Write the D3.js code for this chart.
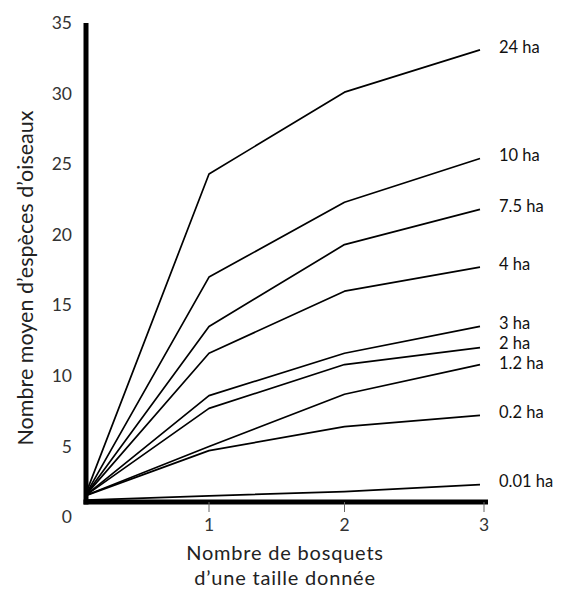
<!DOCTYPE html>
<html>
<head>
<meta charset="utf-8">
<script src="https://cdn.jsdelivr.net/npm/d3@7"></script>
<style>
  html, body { margin: 0; padding: 0; background: #fff; }
  svg { display: block; font-family: Lato, "Open Sans", sans-serif; }
</style>
</head>
<body>
<svg id="chart" width="565" height="593"></svg>
<script>
// ---- data ----
const xValues = [0, 1, 2, 3];
const seriesNames = ["24 ha", "10 ha", "7.5 ha", "4 ha", "3 ha", "2 ha", "1.2 ha", "0.2 ha", "0.01 ha"];
const s24 = [1.5, 24.3, 30.1, 33.1];
const s10 = [1.5, 17.0, 22.3, 25.4];
const s75 = [1.5, 13.5, 19.3, 21.8];
const s4 = [1.5, 11.6, 16.0, 17.7];
const s3 = [1.5, 8.6, 11.6, 13.5];
const s2 = [1.5, 7.7, 10.8, 12.0];
const s12 = [1.5, 5.0, 8.7, 10.8];
const s02 = [1.5, 4.7, 6.4, 7.2];
const s001 = [1.2, 1.5, 1.8, 2.3];
const seriesValues = [s24, s10, s75, s4, s3, s2, s12, s02, s001];
const yTicks = [0, 5, 10, 15, 20, 25, 30, 35];
const xTicks = [1, 2, 3];
const yTitle = "Nombre moyen d\u2019esp\u00e8ces d\u2019oiseaux";
const xTitle = ["Nombre de bosquets", "d\u2019une taille donn\u00e9e"];

// ---- layout ----
const svg = d3.select("#chart");
const x = d3.scaleLinear().domain([0, 1, 3]).range([85, 209, 480]);
const y = d3.scaleLinear().domain([0, 35]).range([517, 23]);
const axisY = y(0) - 15;   // baseline drawn slightly above the "0" label, as in the original
const axisX = x(0) + 1;

// y axis line (thick)
svg.append("line")
  .attr("x1", axisX).attr("x2", axisX)
  .attr("y1", y(35)).attr("y2", axisY + 2.5)
  .attr("stroke", "#000").attr("stroke-width", 5);

// x axis line (thick)
svg.append("line")
  .attr("x1", axisX - 2.5).attr("x2", x(3) + 8)
  .attr("y1", axisY).attr("y2", axisY)
  .attr("stroke", "#000").attr("stroke-width", 5);

// x tick marks
const tickX = d => x(d) + (d === 3 ? 4 : 0);
svg.append("g").selectAll("line").data(xTicks).join("line")
  .attr("x1", tickX).attr("x2", tickX)
  .attr("y1", axisY).attr("y2", axisY + 10)
  .attr("stroke", "#666").attr("stroke-width", 1);

// x tick labels
svg.append("g").selectAll("text").data(xTicks).join("text")
  .attr("x", tickX)
  .attr("y", y(0) + 8)
  .attr("dy", "0.35em")
  .attr("text-anchor", "middle")
  .attr("font-size", 17.5)
  .attr("fill", "#333")
  .text(d => d);

// y tick labels
svg.append("g").selectAll("text").data(yTicks).join("text")
  .attr("x", 72)
  .attr("y", d => y(d))
  .attr("dy", "0.35em")
  .attr("text-anchor", "end")
  .attr("font-size", 17.5)
  .attr("fill", "#333")
  .text(d => d);

// y axis title
svg.append("text")
  .attr("transform", `translate(25, 278) rotate(-90)`)
  .attr("dy", "0.35em")
  .attr("text-anchor", "middle")
  .attr("font-size", 21.5)
  .attr("fill", "#222")
  .text(yTitle);

// x axis title
svg.append("g").selectAll("text").data(xTitle).join("text")
  .attr("x", 285)
  .attr("y", (d, i) => 553 + i * 24.5)
  .attr("dy", "0.35em")
  .attr("text-anchor", "middle")
  .attr("font-size", 20)
  .attr("letter-spacing", 0.8)
  .attr("fill", "#222")
  .text(d => d);

// lines
const line = d3.line().x((d, i) => x(xValues[i])).y(d => y(d));
svg.append("g").selectAll("path").data(seriesValues).join("path")
  .attr("d", d => line(d))
  .attr("fill", "none")
  .attr("stroke", "#000")
  .attr("stroke-width", 1.7)
  .attr("stroke-linejoin", "round");

// series labels: start at the line end, then spread apart to a minimum gap
const minGap = 20;
const labelY = seriesValues.map(v => y(v[v.length - 1]) - 3);
for (let it = 0; it < 50; it++) {
  for (let i = 0; i < labelY.length - 1; i++) {
    const gap = labelY[i + 1] - labelY[i];
    if (gap < minGap) {
      const push = (minGap - gap) / 2;
      labelY[i] -= push;
      labelY[i + 1] += push;
    }
  }
}
svg.append("g").selectAll("text").data(seriesNames).join("text")
  .attr("x", 499)
  .attr("y", (d, i) => labelY[i])
  .attr("dy", "0.35em")
  .attr("font-size", 16.5)
  .attr("fill", "#111")
  .text(d => d);
</script>
</body>
</html>
